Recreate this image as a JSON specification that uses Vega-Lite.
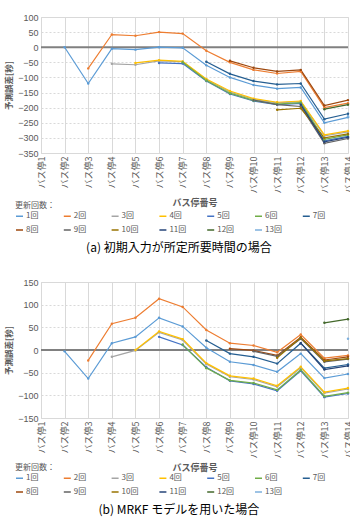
{
  "$schema": "https://vega.github.io/schema/vega-lite/v6.json",
  "padding": {"left": 4, "top": 12, "right": 0, "bottom": 0},
  "spacing": 22,
  "config": {
    "font": "Noto Sans CJK JP",
    "view": {"stroke": "#d9d9d9", "strokeWidth": 1},
    "axis": {"labelColor": "#595959", "titleColor": "#595959", "labelFontSize": 9, "titleFontSize": 9, "ticks": false, "domain": false, "gridColor": "#d9d9d9", "labelOverlap": false},
    "axisX": {"labelAngle": -90, "labelPadding": 3, "titleFontWeight": "bold", "titlePadding": 6},
    "axisY": {"gridDash": [2, 2], "titleFontWeight": "bold", "titleFontSize": 8.5, "labelPadding": 3, "titlePadding": 4, "labelFont": "Liberation Sans", "labelBound": false, "labelFlush": false},
    "legend": {"labelColor": "#595959", "titleColor": "#595959", "labelFontSize": 8, "titleFontSize": 8, "titleFontWeight": "normal", "symbolType": "stroke", "symbolStrokeWidth": 1.5, "symbolSize": 49, "columns": 7, "direction": "horizontal", "gridAlign": "all", "columnPadding": 17.8, "rowPadding": 5, "labelOffset": 2, "titlePadding": 1.5},
    "title": {"fontSize": 12, "fontWeight": "normal", "color": "#000000", "font": "Noto Sans CJK JP"}
  },
  "datasets": {
    "zero": [{"v": 0}],
    "a": [
      {"n": "1回", "stop": "バス停2", "v": 0}, {"n": "1回", "stop": "バス停3", "v": -120}, {"n": "1回", "stop": "バス停4", "v": -5}, {"n": "1回", "stop": "バス停5", "v": -8}, {"n": "1回", "stop": "バス停6", "v": 0}, {"n": "1回", "stop": "バス停7", "v": -2}, {"n": "1回", "stop": "バス停8", "v": -60}, {"n": "1回", "stop": "バス停9", "v": -100}, {"n": "1回", "stop": "バス停10", "v": -125}, {"n": "1回", "stop": "バス停11", "v": -137}, {"n": "1回", "stop": "バス停12", "v": -133}, {"n": "1回", "stop": "バス停13", "v": -250}, {"n": "1回", "stop": "バス停14", "v": -232},
      {"n": "2回", "stop": "バス停3", "v": -70}, {"n": "2回", "stop": "バス停4", "v": 42}, {"n": "2回", "stop": "バス停5", "v": 38}, {"n": "2回", "stop": "バス停6", "v": 50}, {"n": "2回", "stop": "バス停7", "v": 45}, {"n": "2回", "stop": "バス停8", "v": -12}, {"n": "2回", "stop": "バス停9", "v": -50}, {"n": "2回", "stop": "バス停10", "v": -75}, {"n": "2回", "stop": "バス停11", "v": -87}, {"n": "2回", "stop": "バス停12", "v": -80}, {"n": "2回", "stop": "バス停13", "v": -200}, {"n": "2回", "stop": "バス停14", "v": -185},
      {"n": "3回", "stop": "バス停4", "v": -55}, {"n": "3回", "stop": "バス停5", "v": -58}, {"n": "3回", "stop": "バス停6", "v": -45}, {"n": "3回", "stop": "バス停7", "v": -48}, {"n": "3回", "stop": "バス停8", "v": -107}, {"n": "3回", "stop": "バス停9", "v": -148}, {"n": "3回", "stop": "バス停10", "v": -172}, {"n": "3回", "stop": "バス停11", "v": -184}, {"n": "3回", "stop": "バス停12", "v": -180}, {"n": "3回", "stop": "バス停13", "v": -293}, {"n": "3回", "stop": "バス停14", "v": -280},
      {"n": "4回", "stop": "バス停5", "v": -52}, {"n": "4回", "stop": "バス停6", "v": -43}, {"n": "4回", "stop": "バス停7", "v": -47}, {"n": "4回", "stop": "バス停8", "v": -105}, {"n": "4回", "stop": "バス停9", "v": -145}, {"n": "4回", "stop": "バス停10", "v": -170}, {"n": "4回", "stop": "バス停11", "v": -182}, {"n": "4回", "stop": "バス停12", "v": -178}, {"n": "4回", "stop": "バス停13", "v": -290}, {"n": "4回", "stop": "バス停14", "v": -277},
      {"n": "5回", "stop": "バス停6", "v": -52}, {"n": "5回", "stop": "バス停7", "v": -54}, {"n": "5回", "stop": "バス停8", "v": -112}, {"n": "5回", "stop": "バス停9", "v": -155}, {"n": "5回", "stop": "バス停10", "v": -178}, {"n": "5回", "stop": "バス停11", "v": -190}, {"n": "5回", "stop": "バス停12", "v": -186}, {"n": "5回", "stop": "バス停13", "v": -310}, {"n": "5回", "stop": "バス停14", "v": -295},
      {"n": "6回", "stop": "バス停7", "v": -50}, {"n": "6回", "stop": "バス停8", "v": -110}, {"n": "6回", "stop": "バス停9", "v": -152}, {"n": "6回", "stop": "バス停10", "v": -176}, {"n": "6回", "stop": "バス停11", "v": -188}, {"n": "6回", "stop": "バス停12", "v": -183}, {"n": "6回", "stop": "バス停13", "v": -305}, {"n": "6回", "stop": "バス停14", "v": -290},
      {"n": "7回", "stop": "バス停8", "v": -48}, {"n": "7回", "stop": "バス停9", "v": -88}, {"n": "7回", "stop": "バス停10", "v": -112}, {"n": "7回", "stop": "バス停11", "v": -123}, {"n": "7回", "stop": "バス停12", "v": -120}, {"n": "7回", "stop": "バス停13", "v": -238}, {"n": "7回", "stop": "バス停14", "v": -220},
      {"n": "8回", "stop": "バス停9", "v": -45}, {"n": "8回", "stop": "バス停10", "v": -68}, {"n": "8回", "stop": "バス停11", "v": -80}, {"n": "8回", "stop": "バス停12", "v": -75}, {"n": "8回", "stop": "バス停13", "v": -193}, {"n": "8回", "stop": "バス停14", "v": -175},
      {"n": "9回", "stop": "バス停10", "v": -175}, {"n": "9回", "stop": "バス停11", "v": -190}, {"n": "9回", "stop": "バス停12", "v": -196}, {"n": "9回", "stop": "バス停13", "v": -318}, {"n": "9回", "stop": "バス停14", "v": -302},
      {"n": "10回", "stop": "バス停11", "v": -207}, {"n": "10回", "stop": "バス停12", "v": -202}, {"n": "10回", "stop": "バス停13", "v": -300}, {"n": "10回", "stop": "バス停14", "v": -287},
      {"n": "11回", "stop": "バス停12", "v": -190}, {"n": "11回", "stop": "バス停13", "v": -313}, {"n": "11回", "stop": "バス停14", "v": -298},
      {"n": "12回", "stop": "バス停13", "v": -205}, {"n": "12回", "stop": "バス停14", "v": -190},
      {"n": "13回", "stop": "バス停14", "v": -228}
    ],
    "b": [
      {"n": "1回", "stop": "バス停2", "v": -3}, {"n": "1回", "stop": "バス停3", "v": -63}, {"n": "1回", "stop": "バス停4", "v": 15}, {"n": "1回", "stop": "バス停5", "v": 29}, {"n": "1回", "stop": "バス停6", "v": 71}, {"n": "1回", "stop": "バス停7", "v": 52}, {"n": "1回", "stop": "バス停8", "v": 5}, {"n": "1回", "stop": "バス停9", "v": -26}, {"n": "1回", "stop": "バス停10", "v": -33}, {"n": "1回", "stop": "バス停11", "v": -48}, {"n": "1回", "stop": "バス停12", "v": -8}, {"n": "1回", "stop": "バス停13", "v": -62}, {"n": "1回", "stop": "バス停14", "v": -53},
      {"n": "2回", "stop": "バス停3", "v": -23}, {"n": "2回", "stop": "バス停4", "v": 58}, {"n": "2回", "stop": "バス停5", "v": 71}, {"n": "2回", "stop": "バス停6", "v": 113}, {"n": "2回", "stop": "バス停7", "v": 95}, {"n": "2回", "stop": "バス停8", "v": 44}, {"n": "2回", "stop": "バス停9", "v": 15}, {"n": "2回", "stop": "バス停10", "v": 10}, {"n": "2回", "stop": "バス停11", "v": -5}, {"n": "2回", "stop": "バス停12", "v": 34}, {"n": "2回", "stop": "バス停13", "v": -18}, {"n": "2回", "stop": "バス停14", "v": -12},
      {"n": "3回", "stop": "バス停4", "v": -15}, {"n": "3回", "stop": "バス停5", "v": -1}, {"n": "3回", "stop": "バス停6", "v": 39}, {"n": "3回", "stop": "バス停7", "v": 22}, {"n": "3回", "stop": "バス停8", "v": -31}, {"n": "3回", "stop": "バス停9", "v": -59}, {"n": "3回", "stop": "バス停10", "v": -65}, {"n": "3回", "stop": "バス停11", "v": -81}, {"n": "3回", "stop": "バス停12", "v": -39}, {"n": "3回", "stop": "バス停13", "v": -95}, {"n": "3回", "stop": "バス停14", "v": -86},
      {"n": "4回", "stop": "バス停5", "v": 0}, {"n": "4回", "stop": "バス停6", "v": 41}, {"n": "4回", "stop": "バス停7", "v": 24}, {"n": "4回", "stop": "バス停8", "v": -29}, {"n": "4回", "stop": "バス停9", "v": -57}, {"n": "4回", "stop": "バス停10", "v": -63}, {"n": "4回", "stop": "バス停11", "v": -79}, {"n": "4回", "stop": "バス停12", "v": -37}, {"n": "4回", "stop": "バス停13", "v": -93}, {"n": "4回", "stop": "バス停14", "v": -84},
      {"n": "5回", "stop": "バス停6", "v": 29}, {"n": "5回", "stop": "バス停7", "v": 11}, {"n": "5回", "stop": "バス停8", "v": -38}, {"n": "5回", "stop": "バス停9", "v": -68}, {"n": "5回", "stop": "バス停10", "v": -75}, {"n": "5回", "stop": "バス停11", "v": -90}, {"n": "5回", "stop": "バス停12", "v": -46}, {"n": "5回", "stop": "バス停13", "v": -104}, {"n": "5回", "stop": "バス停14", "v": -96},
      {"n": "6回", "stop": "バス停7", "v": 12}, {"n": "6回", "stop": "バス停8", "v": -40}, {"n": "6回", "stop": "バス停9", "v": -67}, {"n": "6回", "stop": "バス停10", "v": -73}, {"n": "6回", "stop": "バス停11", "v": -88}, {"n": "6回", "stop": "バス停12", "v": -44}, {"n": "6回", "stop": "バス停13", "v": -102}, {"n": "6回", "stop": "バス停14", "v": -94},
      {"n": "7回", "stop": "バス停8", "v": 21}, {"n": "7回", "stop": "バス停9", "v": -8}, {"n": "7回", "stop": "バス停10", "v": -15}, {"n": "7回", "stop": "バス停11", "v": -30}, {"n": "7回", "stop": "バス停12", "v": 15}, {"n": "7回", "stop": "バス停13", "v": -40}, {"n": "7回", "stop": "バス停14", "v": -32},
      {"n": "8回", "stop": "バス停9", "v": 3}, {"n": "8回", "stop": "バス停10", "v": -1}, {"n": "8回", "stop": "バス停11", "v": -12}, {"n": "8回", "stop": "バス停12", "v": 28}, {"n": "8回", "stop": "バス停13", "v": -22}, {"n": "8回", "stop": "バス停14", "v": -15},
      {"n": "9回", "stop": "バス停10", "v": -3}, {"n": "9回", "stop": "バス停11", "v": -14}, {"n": "9回", "stop": "バス停12", "v": 25}, {"n": "9回", "stop": "バス停13", "v": -26}, {"n": "9回", "stop": "バス停14", "v": -20},
      {"n": "10回", "stop": "バス停11", "v": -17}, {"n": "10回", "stop": "バス停12", "v": 27}, {"n": "10回", "stop": "バス停13", "v": -24}, {"n": "10回", "stop": "バス停14", "v": -19},
      {"n": "11回", "stop": "バス停12", "v": 15}, {"n": "11回", "stop": "バス停13", "v": -43}, {"n": "11回", "stop": "バス停14", "v": -35},
      {"n": "12回", "stop": "バス停13", "v": 60}, {"n": "12回", "stop": "バス停14", "v": 68},
      {"n": "13回", "stop": "バス停14", "v": 25}
    ]
  },
  "vconcat": [
    {
      "width": 307, "height": 136,
      "title": {"text": "(a) 初期入力が所定所要時間の場合", "orient": "bottom", "anchor": "middle", "frame": "bounds", "offset": 9},
      "layer": [
        {"data": {"name": "zero"}, "mark": {"type": "rule", "color": "#808080", "strokeWidth": 2}, "encoding": {"y": {"field": "v", "type": "quantitative", "axis": {"title": "予測誤差[秒]", "labelOverlap": false, "values": [-350,-300,-250,-200,-150,-100,-50,0,50,100]}}}},
        {
          "data": {"name": "a"},
          "mark": {"type": "line", "strokeWidth": 1.2, "point": {"filled": true, "size": 6}},
          "encoding": {
            "x": {"field": "stop", "type": "ordinal", "sort": null, "scale": {"type": "point", "padding": 0, "domain": ["バス停1","バス停2","バス停3","バス停4","バス停5","バス停6","バス停7","バス停8","バス停9","バス停10","バス停11","バス停12","バス停13","バス停14"]}, "axis": {"title": "バス停番号", "grid": true, "labelOverlap": false}},
            "y": {"field": "v", "type": "quantitative", "scale": {"domain": [-350, 100], "nice": false}, "axis": {"title": "予測誤差[秒]", "labelOverlap": false, "values": [-350,-300,-250,-200,-150,-100,-50,0,50,100]}},
            "color": {"field": "n", "type": "nominal", "scale": {"domain": ["1回","2回","3回","4回","5回","6回","7回","8回","9回","10回","11回","12回","13回"], "range": ["#5B9BD5","#ED7D31","#A5A5A5","#FFC000","#4472C4","#70AD47","#255E91","#9E480E","#636363","#997300","#264478","#43682B","#7CAFDD"]}, "legend": {"title": "更新回数：", "orient": "none", "legendX": -26, "legendY": 185}}
          }
        }
      ]
    },
    {
      "width": 307, "height": 136,
      "title": {"text": "(b) MRKF モデルを用いた場合", "orient": "bottom", "anchor": "middle", "frame": "bounds", "offset": 9},
      "layer": [
        {"data": {"name": "zero"}, "mark": {"type": "rule", "color": "#808080", "strokeWidth": 2}, "encoding": {"y": {"field": "v", "type": "quantitative", "axis": {"title": "予測誤差[秒]", "labelOverlap": false, "values": [-150,-100,-50,0,50,100,150]}}}},
        {
          "data": {"name": "b"},
          "mark": {"type": "line", "strokeWidth": 1.2, "point": {"filled": true, "size": 6}},
          "encoding": {
            "x": {"field": "stop", "type": "ordinal", "sort": null, "scale": {"type": "point", "padding": 0, "domain": ["バス停1","バス停2","バス停3","バス停4","バス停5","バス停6","バス停7","バス停8","バス停9","バス停10","バス停11","バス停12","バス停13","バス停14"]}, "axis": {"title": "バス停番号", "grid": true, "labelOverlap": false}},
            "y": {"field": "v", "type": "quantitative", "scale": {"domain": [-150, 150], "nice": false}, "axis": {"title": "予測誤差[秒]", "labelOverlap": false, "values": [-150,-100,-50,0,50,100,150]}},
            "color": {"field": "n", "type": "nominal", "scale": {"domain": ["1回","2回","3回","4回","5回","6回","7回","8回","9回","10回","11回","12回","13回"], "range": ["#5B9BD5","#ED7D31","#A5A5A5","#FFC000","#4472C4","#70AD47","#255E91","#9E480E","#636363","#997300","#264478","#43682B","#7CAFDD"]}, "legend": {"title": "更新回数：", "orient": "none", "legendX": -26, "legendY": 182}}
          }
        }
      ]
    }
  ],
  "resolve": {"scale": {"color": "independent"}}
}
